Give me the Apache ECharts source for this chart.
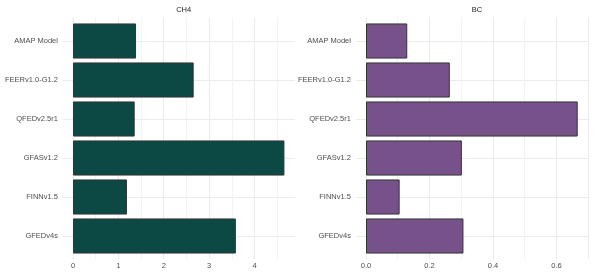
<!DOCTYPE html>
<html>
<head>
<meta charset="utf-8">
<script src="https://cdn.jsdelivr.net/npm/echarts@6/dist/echarts.min.js"></script>
<style>html,body{margin:0;padding:0;background:#fff}#c{width:595px;height:276px}</style>
</head>
<body>
<div id="c"></div>
<script>
const categories = ['AMAP Model', 'FEERv1.0-G1.2', 'QFEDv2.5r1', 'GFASv1.2', 'FINNv1.5', 'GFEDv4s'];
const ch4Values = [1.39, 2.66, 1.36, 4.66, 1.19, 3.59];
const bcValues = [0.130, 0.264, 0.667, 0.302, 0.106, 0.307];
const ch4TickLabels = ['0', '1', '2', '3', '4'];
const bcTickLabels = ['0.0', '0.2', '0.4', '0.6'];
const panelTitles = ['CH4', 'BC'];

const FONT = 'Liberation Sans';
const panels = [
  { title: panelTitles[0], values: ch4Values, ticks: ch4TickLabels, color: '#0c4945', L: 62.4, R: 295, major: 1, minor: 0.5 },
  { title: panelTitles[1], values: bcValues, ticks: bcTickLabels, color: '#77528a', L: 355.4, R: 588.3, major: 0.2, minor: 0.1 }
];
const panelTop = 17.6, panelBottom = 259.4;
const n = categories.length;
const band = (panelBottom - panelTop) / (n - 1 + 1.2);
const firstC = panelTop + 0.6 * band, lastC = panelBottom - 0.6 * band;

const grids = [], xAxes = [], yAxes = [], series = [], titles = [];
panels.forEach((p, i) => {
  const vmax = Math.max(...p.values);
  const xmin = -0.05 * vmax, xmax = 1.05 * vmax;
  const scale = (p.R - p.L) / (xmax - xmin);
  const gmax = Math.floor(xmax / p.minor + 1e-9) * p.minor;
  const g0 = p.L + (0 - xmin) * scale;
  // grid for vertical gridlines and x labels
  grids.push({ left: g0, width: gmax * scale, top: panelTop, height: panelBottom - panelTop, containLabel: false });
  xAxes.push({
    type: 'value', gridIndex: 2 * i, min: 0, max: gmax, interval: p.minor,
    axisLine: { show: false }, axisTick: { show: false },
    splitLine: { show: true, lineStyle: { color: ['#ebebeb', '#f3f3f3'], width: 1 } },
    axisLabel: {
      color: '#4d4d4d', fontSize: 7.5, fontFamily: FONT, margin: 3, showMinLabel: true, showMaxLabel: true,
      formatter: (v) => { const k = Math.round(v / p.major); return Math.abs(v - k * p.major) < 1e-6 && k < p.ticks.length ? p.ticks[k] : ''; }
    }
  });
  yAxes.push({ type: 'value', gridIndex: 2 * i, show: false });
  // grid for bars and horizontal gridlines
  grids.push({ left: p.L, width: p.R - p.L, top: firstC, height: lastC - firstC, containLabel: false });
  xAxes.push({ type: 'value', gridIndex: 2 * i + 1, min: xmin, max: xmax, show: false });
  yAxes.push({
    type: 'category', gridIndex: 2 * i + 1, data: categories, inverse: true, boundaryGap: false,
    axisLine: { show: false }, axisTick: { show: false },
    axisLabel: { color: '#4d4d4d', fontSize: 7.5, fontFamily: FONT, margin: 4.5 },
    splitLine: { show: true, lineStyle: { color: '#ebebeb', width: 1 } }
  });
  series.push({
    type: 'bar', xAxisIndex: 2 * i + 1, yAxisIndex: 2 * i + 1, data: p.values, barWidth: band * 0.9, clip: false,
    itemStyle: { color: p.color, borderColor: '#333333', borderWidth: 1 }
  });
  titles.push({ text: p.title, left: (p.L + p.R) / 2, top: 1, textAlign: 'center',
    textStyle: { color: '#1a1a1a', fontSize: 7.5, fontWeight: 'normal', fontFamily: FONT } });
});

const chart = echarts.init(document.getElementById('c'), null, { renderer: 'canvas' });
chart.setOption({ animation: false, backgroundColor: '#ffffff', title: titles, grid: grids, xAxis: xAxes, yAxis: yAxes, series: series });
</script>
</body>
</html>
